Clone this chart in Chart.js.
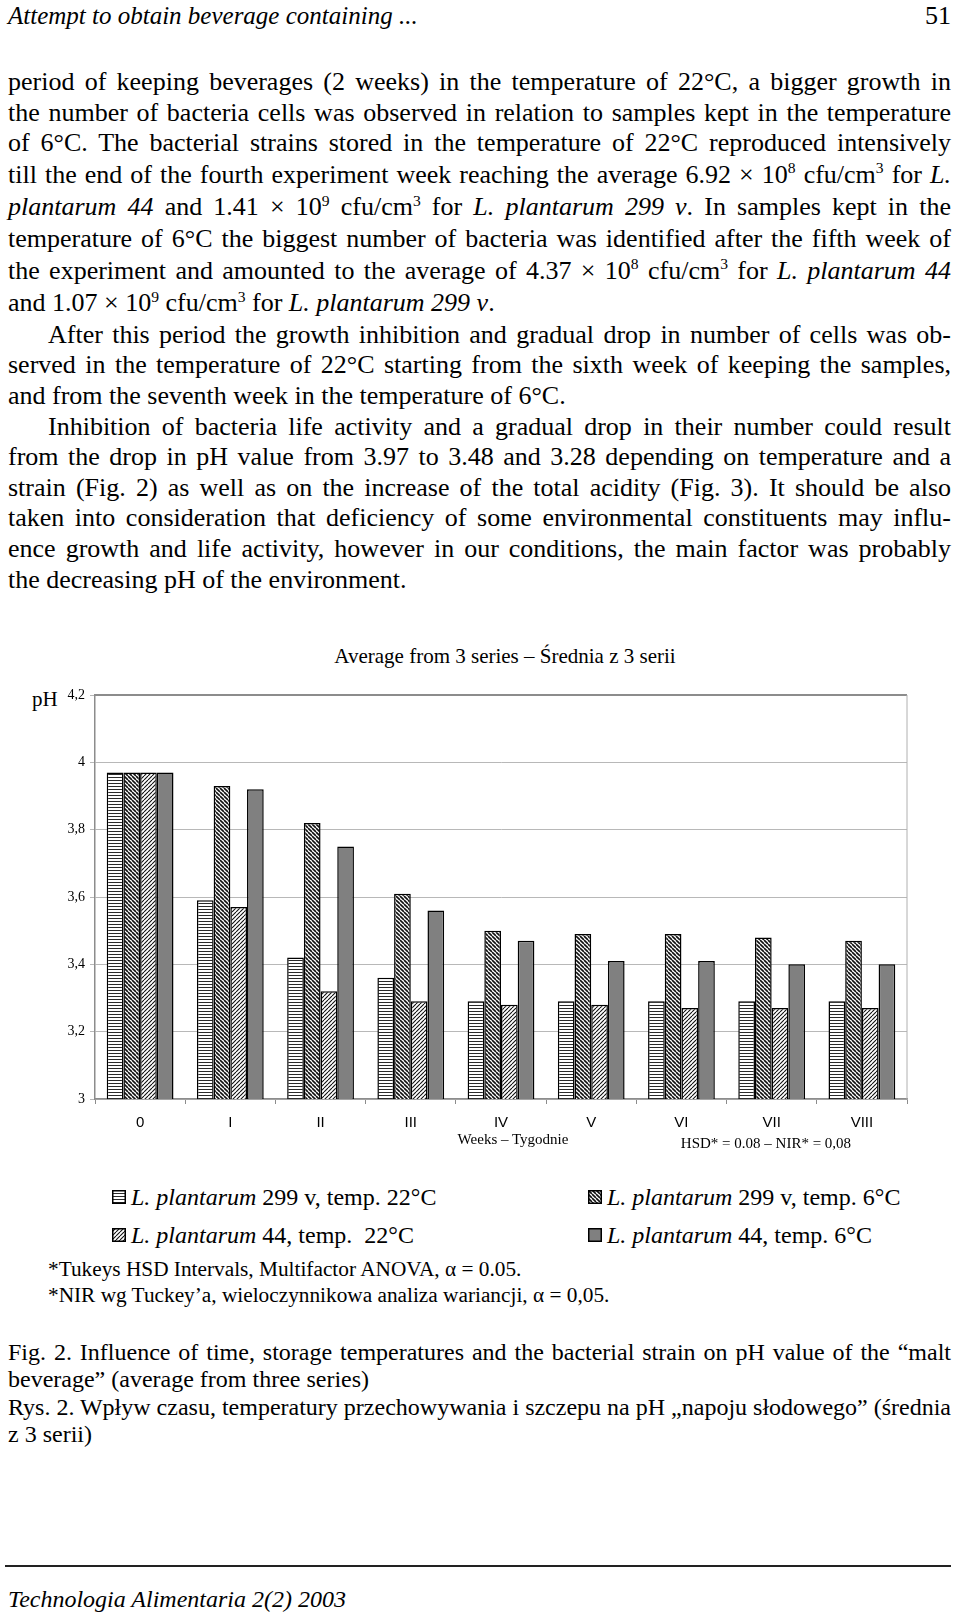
<!DOCTYPE html>
<html>
<head>
<meta charset="utf-8">
<script src="https://cdn.jsdelivr.net/npm/chart.js@4/dist/chart.umd.min.js"></script>
<style>
  body { margin:0; width:960px; height:1614px; position:relative; background:#fff; color:#000;
         font-family:"Liberation Serif","Times New Roman",serif; overflow:hidden; }
  .abs { position:absolute; white-space:nowrap; }
  #text { position:absolute; left:8px; top:67px; width:943px; font-size:26px; line-height:30.6px; }
  #text .s { line-height:32.6px; }
  #caption { position:absolute; left:8px; top:1339px; width:943px; font-size:24px; line-height:27.3px; }
  .j { text-align:justify; text-align-last:justify; }
  .ind { text-indent:40px; }
  sup { font-size:60%; line-height:0; vertical-align:baseline; position:relative; top:-0.6em; }
  #legend .item { position:absolute; display:flex; align-items:center; font-size:24px; line-height:26px; white-space:nowrap; }
  #legend canvas { margin-right:5px; }
</style>
</head>
<body>

<div class="abs" style="left:8px;top:1px;font-size:25px;line-height:30px;font-style:italic">Attempt to obtain beverage containing ...</div>
<div class="abs" style="right:9px;top:1px;font-size:26px;line-height:30px">51</div>

<div id="text">
  <div class="j">period of keeping beverages (2 weeks) in the temperature of 22°C, a bigger growth in</div>
  <div class="j">the number of bacteria cells was observed in relation to samples kept in the temperature</div>
  <div class="j">of 6°C. The bacterial strains stored in the temperature of 22°C reproduced intensively</div>
  <div class="j s">till the end of the fourth experiment week reaching the average 6.92 × 10<sup>8</sup> cfu/cm<sup>3</sup> for <i>L.</i></div>
  <div class="j s"><i>plantarum 44</i> and 1.41 × 10<sup>9</sup> cfu/cm<sup>3</sup> for <i>L. plantarum 299 v</i>. In samples kept in the</div>
  <div class="j">temperature of 6°C the biggest number of bacteria was identified after the fifth week of</div>
  <div class="j s">the experiment and amounted to the average of 4.37 × 10<sup>8</sup> cfu/cm<sup>3</sup> for <i>L. plantarum 44</i></div>
  <div class="s">and 1.07 × 10<sup>9</sup> cfu/cm<sup>3</sup> for <i>L. plantarum 299 v</i>.</div>
  <div class="j ind">After this period the growth inhibition and gradual drop in number of cells was ob-</div>
  <div class="j">served in the temperature of 22°C starting from the sixth week of keeping the samples,</div>
  <div>and from the seventh week in the temperature of 6°C.</div>
  <div class="j ind">Inhibition of bacteria life activity and a gradual drop in their number could result</div>
  <div class="j">from the drop in pH value from 3.97 to 3.48 and 3.28 depending on temperature and a</div>
  <div class="j">strain (Fig. 2) as well as on the increase of the total acidity (Fig. 3). It should be also</div>
  <div class="j">taken into consideration that deficiency of some environmental constituents may influ-</div>
  <div class="j">ence growth and life activity, however in our conditions, the main factor was probably</div>
  <div>the decreasing pH of the environment.</div>
</div>

<!-- chart -->
<div class="abs" style="left:305px;top:644px;width:400px;text-align:center;font-size:21px;line-height:24px">Average from 3 series – Średnia z 3 serii</div>
<div class="abs" style="left:32px;top:688px;font-size:21px;line-height:22px">pH</div>
<canvas id="chart" width="960" height="560" style="position:absolute;left:0;top:600px"></canvas>
<div class="abs" style="left:413px;top:1130px;width:200px;text-align:center;font-size:15px;line-height:18px">Weeks – Tygodnie</div>
<div class="abs" style="left:666px;top:1134px;width:200px;text-align:center;font-size:15px;line-height:18px">HSD* = 0.08 – NIR* = 0,08</div>

<div id="legend"></div>

<div class="abs" style="left:48px;top:1256px;font-size:21.3px;line-height:26px">*Tukeys HSD Intervals, Multifactor ANOVA, α = 0.05.<br>*NIR wg Tuckey’a, wieloczynnikowa analiza wariancji, α = 0,05.</div>

<div id="caption">
  <div class="j">Fig. 2. Influence of time, storage temperatures and the bacterial strain on pH value of the “malt</div>
  <div>beverage” (average from three series)</div>
  <div class="j">Rys. 2. Wpływ czasu, temperatury przechowywania i szczepu na pH „napoju słodowego” (średnia</div>
  <div>z 3 serii)</div>
</div>

<div class="abs" style="left:5px;top:1565px;width:946px;height:2px;background:#222"></div>
<div class="abs" style="left:8px;top:1586px;font-size:24px;line-height:26px;font-style:italic">Technologia Alimentaria 2(2) 2003</div>

<script>
// dane (pH, srednia z 3 serii)
const weeks = ["0", "I", "II", "III", "IV", "V", "VI", "VII", "VIII"];
const ph299v22 = [3.97, 3.59, 3.42, 3.36, 3.29, 3.29, 3.29, 3.29, 3.29];
const ph299v6 = [3.97, 3.93, 3.82, 3.61, 3.50, 3.49, 3.49, 3.48, 3.47];
const ph44_22 = [3.97, 3.57, 3.32, 3.29, 3.28, 3.28, 3.27, 3.27, 3.27];
const ph44_6 = [3.97, 3.92, 3.75, 3.56, 3.47, 3.41, 3.41, 3.40, 3.40];
const yTicks = [3, 3.2, 3.4, 3.6, 3.8, 4, 4.2];
const strain = "L. plantarum";
const seriesNames = ["299 v, temp. 22°C", "299 v, temp. 6°C", "44, temp.  22°C", "44, temp. 6°C"];

// wzory wypelnienia slupkow
function makePattern(kind) {
  let c = document.createElement("canvas");
  let s = kind == "horiz" ? 3 : 4;
  c.width = s; c.height = s;
  let g = c.getContext("2d");
  g.fillStyle = "#fff";
  g.fillRect(0, 0, s, s);
  if (kind == "solid") { g.fillStyle = "#808080"; g.fillRect(0, 0, s, s); }
  if (kind == "horiz") { g.fillStyle = "#2a2a2a"; g.fillRect(0, 0, s, 1); }
  if (kind == "back" || kind == "fwd") {
    g.strokeStyle = "#111";
    g.lineWidth = kind == "back" ? 1.6 : 1.1;
    g.beginPath();
    for (let k = -1; k <= 2; k++) {
      if (kind == "back") { g.moveTo(k * s, 0); g.lineTo(k * s + s, s); }
      else { g.moveTo(k * s, 0); g.lineTo(k * s - s, s); }
    }
    g.stroke();
  }
  return g.createPattern(c, "repeat");
}

const kinds = ["horiz", "back", "fwd", "solid"];
const values = [ph299v22, ph299v6, ph44_22, ph44_6];

const frame = {
  id: "frame",
  beforeDatasetsDraw(chart) {
    let { ctx, chartArea: a } = chart;
    ctx.save();
    ctx.strokeStyle = "#8c8c8c";
    ctx.lineWidth = 2;
    ctx.beginPath(); ctx.moveTo(a.left, a.top); ctx.lineTo(a.right, a.top); ctx.stroke();
    ctx.strokeStyle = "#b0b0b0";
    ctx.lineWidth = 1;
    ctx.beginPath(); ctx.moveTo(a.right, a.top); ctx.lineTo(a.right, a.bottom); ctx.stroke();
    ctx.restore();
  }
};

let chart = new Chart(document.getElementById("chart"), {
  type: "bar",
  data: {
    labels: weeks,
    datasets: values.map((v, i) => ({
      label: strain + " " + seriesNames[i],
      data: v,
      backgroundColor: makePattern(kinds[i]),
      borderColor: "#000",
      borderWidth: 1.5,
      borderSkipped: false,
      categoryPercentage: 0.74,
      barPercentage: 1,
    })),
  },
  options: {
    responsive: false,
    animation: false,
    layout: { padding: { top: 95, right: 53, bottom: 21, left: 0 } },
    plugins: { legend: { display: false }, tooltip: { enabled: false }, title: { display: false } },
    scales: {
      x: {
        afterFit: (s) => { s.height = 40; },
        grid: { offset: true, drawOnChartArea: false, tickLength: 5, color: "#8c8c8c" },
        border: { color: "#8c8c8c", width: 1.5 },
        ticks: { color: "#000", padding: 10, font: { family: "Liberation Sans", size: 15 } },
      },
      y: {
        min: 3,
        max: 4.2,
        afterFit: (s) => { s.width = 95; },
        afterBuildTicks: (s) => { s.ticks = yTicks.map((v) => ({ value: v })); },
        grid: { color: "#b8b8b8", lineWidth: 1, tickLength: 5 },
        border: { color: "#8c8c8c", width: 1.5 },
        ticks: {
          color: "#000",
          padding: 5,
          font: { family: "Liberation Serif", size: 14 },
          callback: (v) => String(v).replace(".", ","),
        },
      },
    },
  },
  plugins: [frame],
});

// legenda 2x2 jak w oryginale
const legendPos = [[112, 1184], [588, 1184], [112, 1222], [588, 1222]];
let legend = document.getElementById("legend");
chart.data.datasets.forEach((ds, i) => {
  let item = document.createElement("div");
  item.className = "item";
  item.style.left = legendPos[i][0] + "px";
  item.style.top = legendPos[i][1] + "px";
  let sw = document.createElement("canvas");
  sw.width = 14; sw.height = 14;
  let g = sw.getContext("2d");
  g.fillStyle = makePattern(kinds[i]);
  g.fillRect(0, 0, 14, 14);
  g.strokeStyle = "#000"; g.lineWidth = 1.5;
  g.strokeRect(0.75, 0.75, 12.5, 12.5);
  item.appendChild(sw);
  let t = document.createElement("span");
  t.innerHTML = "<i>" + strain + "</i> " + seriesNames[i].replace(/ /g, "&nbsp;");
  item.appendChild(t);
  legend.appendChild(item);
});
</script>
</body>
</html>
